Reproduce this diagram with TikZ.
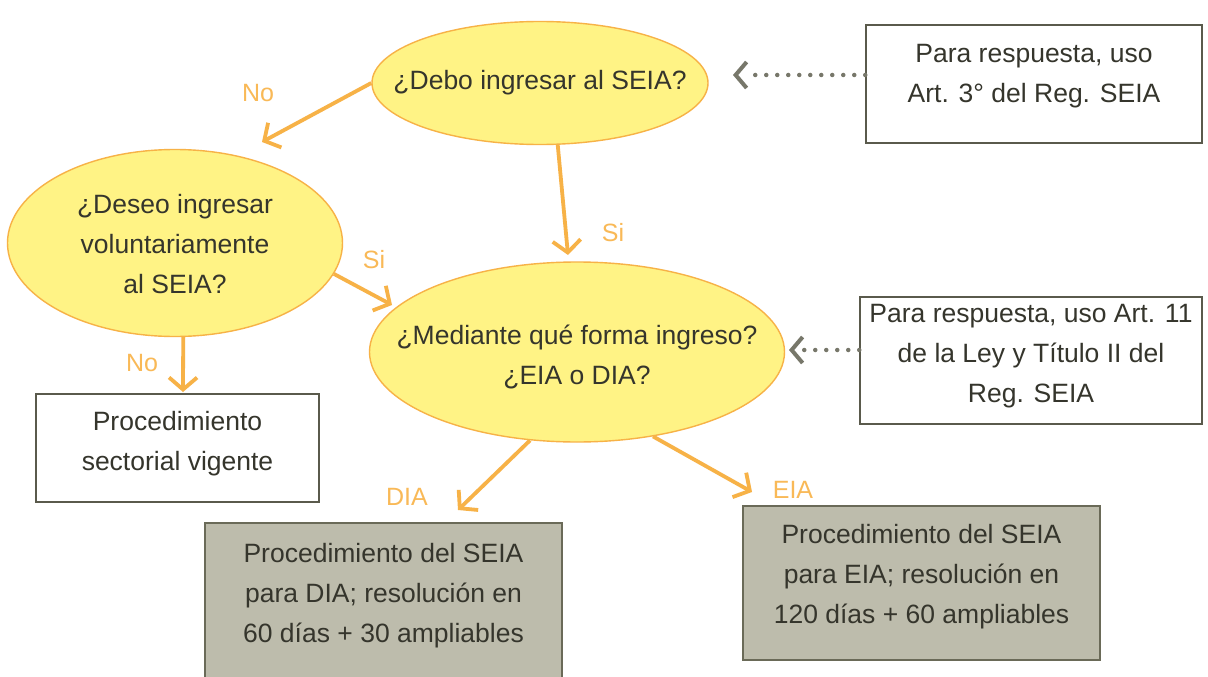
\documentclass[tikz,border=0pt]{standalone}
\usepackage{fontspec}
\setmainfont{Liberation Sans}
\usetikzlibrary{arrows.meta,shapes.geometric}
\definecolor{ylw}{HTML}{FFF385}
\definecolor{org}{HTML}{F7B247}
\definecolor{lbl}{HTML}{F9B957}
\definecolor{txt}{HTML}{35352C}
\definecolor{bord}{HTML}{5A5A4C}
\definecolor{gfill}{HTML}{BDBCAC}
\definecolor{gbord}{HTML}{6A6A58}
\definecolor{dotc}{HTML}{77776A}
\begin{document}
\begin{tikzpicture}[x=1pt,y=-1pt,
  qshape/.style={ellipse, draw=org, line width=1.4pt, fill=ylw, inner sep=0pt},
  qtext/.style={inner sep=0pt, align=center, text=txt, font=\fontsize{26.5}{40}\selectfont},
  boxshape/.style={rectangle, draw=bord, line width=1.5pt, fill=white, inner sep=0pt},
  gboxshape/.style={rectangle, draw=gbord, line width=1.5pt, fill=gfill, inner sep=0pt},
  flow/.style={draw=org, line width=3.8pt, -{Straight Barb[length=12pt,width=28pt]}},
  hint/.style={draw=dotc, line width=4.5pt, line cap=round, dash pattern=on 0pt off 11pt},
  hinttip/.style={draw=dotc, line width=4pt, -{Straight Barb[length=11pt,width=26pt]}},
  lab/.style={inner sep=0pt, text=lbl, font=\fontsize{25}{30}\selectfont}
]
\useasboundingbox (0,0) rectangle (1208,677);
\clip (0,0) rectangle (1208,677);
\fill[white] (0,0) rectangle (1208,677);

% ellipses
\node[qshape, minimum width=336pt, minimum height=123pt] (e1) at (540,83) {};
\node[qtext] (t1) at (e1.center) {¿Debo ingresar al SEIA?};
\node[qshape, minimum width=335pt, minimum height=187pt] (e2) at (175,243) {};
\node[qtext] (t2) at (175,244) {¿Deseo ingresar\\voluntariamente\\al SEIA?};
\node[qshape, minimum width=415pt, minimum height=180pt] (e3) at (577,352) {};
\node[qtext] (t3) at (577,357) {¿Mediante qué forma ingreso?\\¿EIA o DIA?};

% white boxes
\node[boxshape, minimum width=336pt, minimum height=118pt] (b1) at (1034,84) {};
\node[qtext] (tb1) at (1034,76) {Para respuesta, uso\\Art. 3° del Reg. SEIA};
\node[boxshape, minimum width=342pt, minimum height=127pt] (b2) at (1031,360.5) {};
\node[qtext] (tb2) at (1031,356) {Para respuesta, uso Art. 11\\de la Ley y Título II del\\Reg. SEIA};
\node[boxshape, minimum width=283pt, minimum height=108pt] (b3) at (177.5,448) {};
\node[qtext] (tb3) at (177.5,444) {Procedimiento\\sectorial vigente};

% grey boxes
\node[gboxshape, minimum width=357pt, minimum height=170pt] (g1) at (383.5,608) {};
\node[qtext] (tg1) at (383.5,596) {Procedimiento del SEIA\\para DIA; resolución en\\60 días + 30 ampliables};
\node[gboxshape, minimum width=357pt, minimum height=154pt] (g2) at (921.5,583) {};
\node[qtext] (tg2) at (921.5,577) {Procedimiento del SEIA\\para EIA; resolución en\\120 días + 60 ampliables};

% arrow ends
\coordinate (a1) at (262,142);
\coordinate (a2) at (568,255);
\coordinate (a3) at (392,305);
\coordinate (a4) at (183,392);
\coordinate (a5) at (458,510);
\coordinate (a6) at (752,492);
\coordinate (d1) at (733,75);
\coordinate (d2) at (789,350);

\draw[flow] (e1.west) -- (a1);
\draw[flow] (e1.-74) -- (a2);
\draw[flow] (e2.-11) -- (a3);
\draw[flow] (e2.-85) -- (a4);
\draw[flow] (e3.-118) -- (a5);
\draw[flow] (e3.-48) -- (a6);

\draw[hint] (b1.west |- d1) -- ([xshift=12pt]d1);
\draw[hinttip] ([xshift=3pt]d1) -- (d1);
\draw[hint] (b2.west |- d2) -- ([xshift=12pt]d2);
\draw[hinttip] ([xshift=3pt]d2) -- (d2);

% labels
\node[lab] (l1) at (258,93) {No};
\node[lab] (l2) at (613,233) {Si};
\node[lab] (l3) at (374,260) {Si};
\node[lab] (l4) at (142,363) {No};
\node[lab] (l5) at (407,497) {DIA};
\node[lab] (l6) at (793,490) {EIA};
\end{tikzpicture}
\end{document}
